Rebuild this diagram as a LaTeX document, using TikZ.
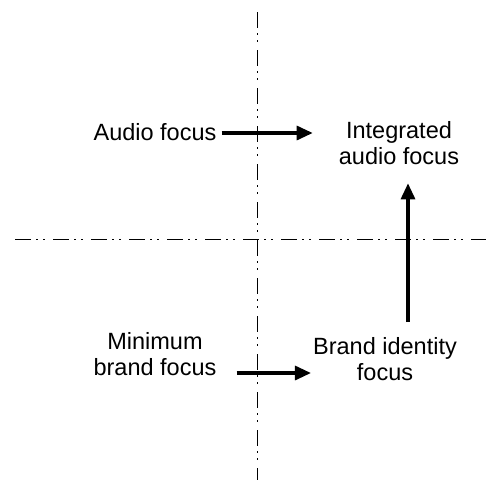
\documentclass[tikz,border=0pt]{standalone}
\usepackage{fontspec}
\setmainfont{Liberation Sans}
\usetikzlibrary{arrows.meta}
\tikzset{
  lbl/.style={align=center, inner sep=2pt, font=\fontsize{23.5pt}{26pt}\selectfont},
  arr/.style={line width=3.2pt, -{Triangle[length=16pt,width=14pt]}},
  axis/.style={line width=1.5pt, dash pattern=on 15.5pt off 5.5pt on 1.5pt off 5.5pt on 1.5pt off 8.5pt}
}
\begin{document}
\begin{tikzpicture}[x=1pt,y=-1pt]
\useasboundingbox (0,0) rectangle (486,480);
% axes
\coordinate (vtop) at (257.3,12);
\coordinate (vbot) at (257.3,480);
\coordinate (hleft) at (15,239.3);
\coordinate (hright) at (486,239.3);
\draw[axis] (vtop) -- (vbot);
\draw[axis] (hleft) -- (hright);
% labels
\node[lbl] (audio) at (155,132) {Audio focus};
\node[lbl] (integ) at (399,143.5) {Integrated\\audio focus};
\node[lbl] (minimum) at (155,354) {Minimum\\brand focus};
\node[lbl] (brand) at (385,359) {Brand identity\\focus};
% arrows
\coordinate (vx) at (408,0);
\path (audio.east) ++(3,1) coordinate (a1);
\path (minimum.east) ++(18,19) coordinate (m1);
\draw[arr, shorten >=24pt] (a1) -- (a1 -| integ.west);
\draw[arr] (m1) -- (m1 -| brand.west);
\draw[arr, shorten <=13pt, shorten >=16pt] (brand.north -| vx) -- (integ.south -| vx);
\end{tikzpicture}
\end{document}
